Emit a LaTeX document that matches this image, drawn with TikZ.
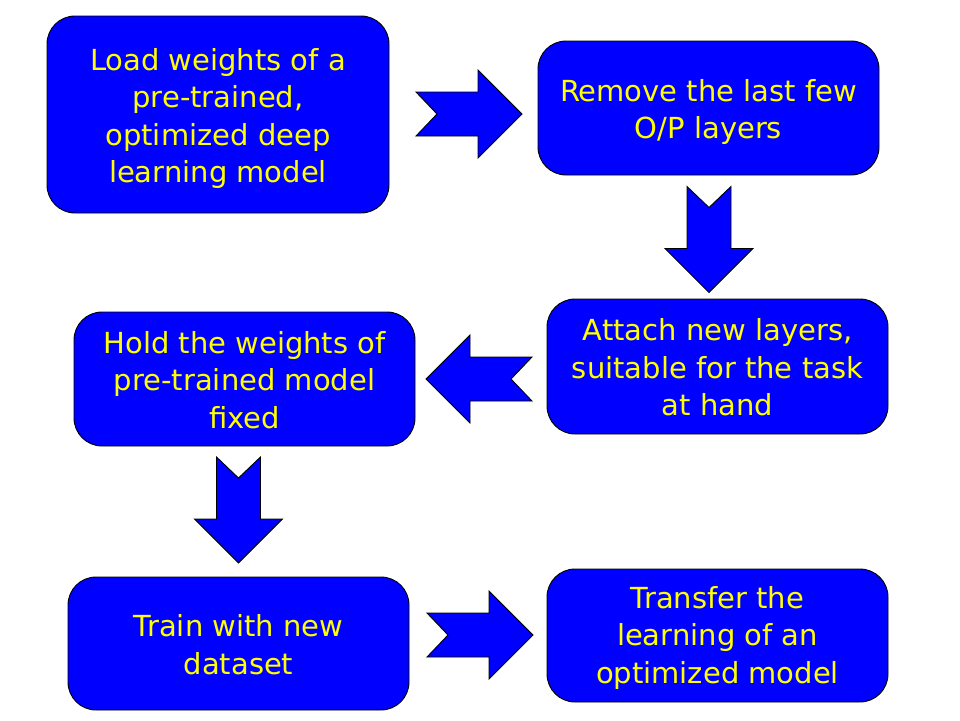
\documentclass[tikz,border=0pt]{standalone}
\usepackage{fontspec}
\setmainfont{DejaVu Sans}
\usepackage{color}
\definecolor{boxblue}{RGB}{0,0,255}
\definecolor{txtyellow}{RGB}{255,255,0}
\tikzset{
  stage/.style={draw=black,line width=0.9pt,fill=boxblue,rounded corners=28pt,
    text=txtyellow,align=center,inner sep=0pt,minimum width=341pt,
    font=\fontsize{29}{37.5}\selectfont},
  stagetext/.style={text=txtyellow,align=center,inner sep=0pt,yshift=-4pt,
    font=\fontsize{29}{37.5}\selectfont},
  blockarrow/.pic={\draw[fill=boxblue,line width=0.9pt] (-53,22) -- (9,22) -- (9,44) -- (53,0)
    -- (9,-44) -- (9,-22) -- (-53,-22) -- (-32,0) -- cycle;}
}
\begin{document}
\begin{tikzpicture}[x=1pt,y=-1pt]
\useasboundingbox (0,0) rectangle (960,720);
\node[stage,minimum width=342pt,minimum height=197pt] (load) at (218,114.5) {};
\node[stagetext] at (load) {Load weights of a\\pre-trained,\\optimized deep\\learning model};
\node[stage,minimum height=134pt] (remove) at (708.5,108) {};
\node[stagetext] at (remove) {Remove the last few\\O/P layers};
\node[stage,minimum height=135pt] (attach) at (717.5,366.5) {};
\node[stagetext,yshift=3pt] at (attach) {Attach new layers,\\suitable for the task\\at hand};
\node[stage,minimum height=134pt] (hold) at (244.5,379) {};
\node[stagetext,yshift=3pt] at (hold) {Hold the weights of\\pre-trained model\\fixed};
\node[stage,minimum height=133pt] (train) at (238.5,643.5) {};
\node[stagetext,yshift=3pt] at (train) {Train with new\\dataset};
\node[stage,minimum height=133pt] (transfer) at (717.5,635.5) {};
\node[stagetext,yshift=2pt] at (transfer) {Transfer the\\learning of an\\optimized model};
\pic at (469,114) {blockarrow};
\pic[rotate=-90] at (709,239.5) {blockarrow};
\pic[rotate=180] at (479,379) {blockarrow};
\pic[rotate=-90] at (238.5,510) {blockarrow};
\pic at (480,635) {blockarrow};
\end{tikzpicture}
\end{document}
